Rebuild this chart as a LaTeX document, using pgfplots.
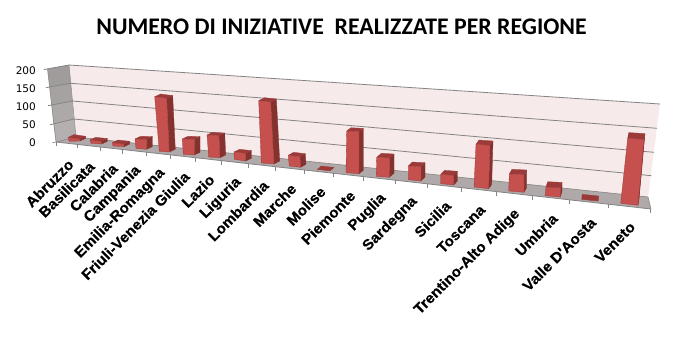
\documentclass[border=0pt]{standalone}
\usepackage{fontspec}
\setmainfont{Liberation Sans}
\newfontfamily\titlefont{Carlito}
\newfontfamily\numfont{DejaVu Sans}
\newfontfamily\labfont[FakeStretch=1.05,FakeBold=0.5]{Liberation Sans Bold}
\usepackage{pgfplots}
\pgfplotsset{compat=1.18}
\definecolor{wallback}{HTML}{F6EAEA}
\definecolor{floorc}{HTML}{B0A9A9}
\definecolor{gridc}{HTML}{858383}
\definecolor{frontc}{HTML}{C5504E}
\definecolor{sidec}{HTML}{85322F}
\definecolor{topc}{HTML}{9B3A38}
% \pbar{TLx}{TLy}{TRx}{TRy}{BRx}{BRy}{BLx}{BLy}{dx,dy}: one column, in picture pixels
\def\pbarB#1,#2;{\pgfmathsetmacro\dXa{#1}\pgfmathsetmacro\dYa{#2}}
\newcommand\pbar[9]{%
  \pbarB#9;%
  \pgfmathsetmacro\tlbx{#1+\dXa}\pgfmathsetmacro\tlby{#2+\dYa}%
  \pgfmathsetmacro\trbx{#3+\dXa}\pgfmathsetmacro\trby{#4+\dYa}%
  \pgfmathsetmacro\brbx{#5+\dXa}\pgfmathsetmacro\brby{#6+\dYa}%
  \addplot[fill=sidec,draw=sidec,line width=.3pt] coordinates {(#3,#4) (\trbx,\trby) (\brbx,\brby) (#5,#6)} -- cycle;
  \addplot[fill=topc,draw=topc,line width=.3pt] coordinates {(#1,#2) (#3,#4) (\trbx,\trby) (\tlbx,\tlby)} -- cycle;
  \addplot[fill=frontc,draw=sidec!70!frontc,line width=.3pt] coordinates {(#1,#2) (#3,#4) (#5,#6) (#7,#8)} -- cycle;
}
\newcommand\reg[3]{\node[rotate=45,anchor=east,inner sep=0pt,font=\fontsize{14.6}{15}\labfont] at (axis cs:#1,#2) {#3};}
\newcommand\num[2]{\node[anchor=east,inner sep=0pt,font=\fontsize{10.5}{11}\numfont] at (axis cs:36,#1) {#2};}
\begin{document}
\begin{tikzpicture}
\begin{axis}[
  scale only axis,width=686pt,height=357pt,
  xmin=0,xmax=686,ymin=0,ymax=357,y dir=reverse,
  axis lines=none,clip=false,no marks,
  every axis plot/.append style={line join=round},
]
\addplot[fill=white,draw=none] coordinates {(0,0) (686,0) (686,357) (0,357)} -- cycle;
% back wall
\addplot[fill=wallback,draw=none] coordinates {(69,65) (660,104) (648,197) (76,137)} -- cycle;
% left wall, in bands from dark to light
\addplot[fill={rgb,255:red,160;green,156;blue,156},draw=none] coordinates {(47.5,69) (69,65) (70.7,83.3) (49.5,87)} -- cycle;
\addplot[fill={rgb,255:red,166;green,162;blue,162},draw=none] coordinates {(49.5,87) (70.7,83.3) (72.3,101) (51.5,105)} -- cycle;
\addplot[fill={rgb,255:red,173;green,169;blue,169},draw=none] coordinates {(51.5,105) (72.3,101) (74,119) (53.5,124)} -- cycle;
\addplot[fill={rgb,255:red,180;green,176;blue,176},draw=none] coordinates {(53.5,124) (74,119) (76,137) (56,142)} -- cycle;
% floor
\addplot[fill=floorc,draw=none] coordinates {(56,142) (76,137) (648,197) (651,209)} -- cycle;
% gridlines, running on over the left wall to the value ticks
\addplot[gridc,line width=.8pt] coordinates {(44,69.5) (69,65) (660,104)};
\addplot[gridc,line width=.8pt] coordinates {(46,87.6) (70.7,83.3) (657,128.3)};
\addplot[gridc,line width=.8pt] coordinates {(48,105.7) (72.3,101) (654,152.3)};
\addplot[gridc,line width=.8pt] coordinates {(50,124.8) (74,119) (651.3,175.7)};
\addplot[gridc,line width=.6pt] coordinates {(52.5,142.8) (76,137) (648,197)};
\addplot[gridc,line width=.8pt] coordinates {(56,142) (651,209)};
\addplot[gridc,line width=.5pt] coordinates {(47.5,69) (56,142)};
\addplot[gridc,line width=.5pt] coordinates {(76,137) (69,65)};
\addplot[gridc,line width=.5pt] coordinates {(648,197) (651,209)};
% category ticks
\addplot[gridc,line width=.6pt] coordinates {(56.7,142) (56.7,146)};
\addplot[gridc,line width=.6pt] coordinates {(77.3,144.4) (77.3,148.4)};
\addplot[gridc,line width=.6pt] coordinates {(100,147) (100,151)};
\addplot[gridc,line width=.6pt] coordinates {(122.3,149.5) (122.3,153.5)};
\addplot[gridc,line width=.6pt] coordinates {(146.7,152.2) (146.7,156.2)};
\addplot[gridc,line width=.6pt] coordinates {(170.3,154.9) (170.3,158.9)};
\addplot[gridc,line width=.6pt] coordinates {(195.3,157.7) (195.3,161.7)};
\addplot[gridc,line width=.6pt] coordinates {(221.7,160.7) (221.7,164.7)};
\addplot[gridc,line width=.6pt] coordinates {(248,163.6) (248,167.6)};
\addplot[gridc,line width=.6pt] coordinates {(275.7,166.7) (275.7,170.7)};
\addplot[gridc,line width=.6pt] coordinates {(304,169.9) (304,173.9)};
\addplot[gridc,line width=.6pt] coordinates {(333.7,173.3) (333.7,177.3)};
\addplot[gridc,line width=.6pt] coordinates {(363.7,176.6) (363.7,180.6)};
\addplot[gridc,line width=.6pt] coordinates {(395.3,180.2) (395.3,184.2)};
\addplot[gridc,line width=.6pt] coordinates {(427.3,183.8) (427.3,187.8)};
\addplot[gridc,line width=.6pt] coordinates {(461.7,187.7) (461.7,191.7)};
\addplot[gridc,line width=.6pt] coordinates {(496.7,191.6) (496.7,195.6)};
\addplot[gridc,line width=.6pt] coordinates {(532.3,195.6) (532.3,199.6)};
\addplot[gridc,line width=.6pt] coordinates {(569.3,199.8) (569.3,203.8)};
\addplot[gridc,line width=.6pt] coordinates {(608.3,204.2) (608.3,208.2)};
\addplot[gridc,line width=.6pt] coordinates {(650,208.9) (650,212.9)};
% columns
\pbar{68.3}{137.3}{80}{139}{80}{141}{69}{141.3}{5.7,-2.7}
\pbar{90}{140}{101.7}{141.3}{101.7}{144}{91}{143.3}{5.7,-2.7}
\pbar{112.3}{142.7}{124}{144}{124}{146.7}{113}{146}{5.7,-2.7}
\pbar{135}{139}{146.7}{139.3}{146.7}{149.3}{136}{148.3}{5.7,-2.7}
\pbar{154.7}{96.7}{166.7}{98.3}{169.3}{152}{159.3}{151.3}{6,-2.7}
\pbar{182.3}{139}{194.3}{139.3}{194.3}{155}{183.3}{154.3}{5.7,-2.7}
\pbar{207}{135}{219}{135.7}{220}{157.7}{208.7}{157}{5.7,-2.7}
\pbar{234}{152}{245.7}{153.3}{245.7}{161}{234.3}{159.3}{5.7,-2.7}
\pbar{258.7}{100.7}{270.7}{102}{274}{164}{261.3}{163}{5.7,-3}
\pbar{288.3}{155.3}{300}{156.7}{300.7}{167.3}{289.3}{166}{5.3,-3}
\pbar{317.3}{169.3}{330}{170.7}{330}{170.7}{317.3}{169.3}{4,-3.3}
\pbar{346.7}{131}{359}{131.7}{359}{173.7}{346}{172.7}{4.3,-3.3}
\pbar{376.7}{157.3}{389.3}{158}{389.3}{177.3}{376.3}{176.3}{4.7,-4}
\pbar{408.3}{166}{421}{166.7}{421}{181}{408.3}{179.7}{4,-4}
\pbar{440.7}{174.3}{453.7}{175.3}{453.7}{185}{440.7}{183.7}{3.7,-4}
\pbar{476}{144.3}{490}{145.3}{488.7}{188.7}{474}{187}{3,-4.3}
\pbar{509.3}{174}{524}{174.7}{524}{192.3}{508.7}{191}{2.7,-4.7}
\pbar{546}{187}{560.3}{187.7}{560.3}{197}{545}{195.7}{1.7,-5.3}
\pbar{581.7}{199.3}{598}{201}{598}{201}{581.7}{199.3}{.5,-5}
\pbar{627.7}{138.3}{644}{139.3}{638}{205.3}{620.7}{203.3}{1,-5.7}
% title
\node[anchor=center,inner sep=0pt,font=\fontsize{23.8}{25}\titlefont\bfseries] at (axis cs:341.5,27) {NUMERO DI INIZIATIVE\ \ REALIZZATE PER REGIONE};
% value labels
\num{70.7}{200}
\num{88.7}{150}
\num{107}{100}
\num{125}{50}
\num{143}{0}
% region labels
\reg{71}{161.7}{Abruzzo}
\reg{92}{164}{Basilicata}
\reg{115}{166}{Calabria}
\reg{138.7}{168.3}{Campania}
\reg{162.7}{170.7}{Emilia-Romagna}
\reg{187}{174}{Friuli-Venezia Giulia}
\reg{212}{177}{Lazio}
\reg{239}{180}{Liguria}
\reg{266}{183}{Lombardia}
\reg{293.7}{186}{Marche}
\reg{323}{189}{Molise}
\reg{352.7}{193}{Piemonte}
\reg{383.7}{196}{Puglia}
\reg{415}{199.3}{Sardegna}
\reg{448.3}{203.3}{Sicilia}
\reg{482.7}{207.3}{Toscana}
\reg{517.7}{211.7}{Trentino-Alto Adige}
\reg{555}{216}{Umbria}
\reg{593.3}{220}{Valle D'Aosta}
\reg{632.7}{224.3}{Veneto}
\end{axis}
\end{tikzpicture}
\end{document}
